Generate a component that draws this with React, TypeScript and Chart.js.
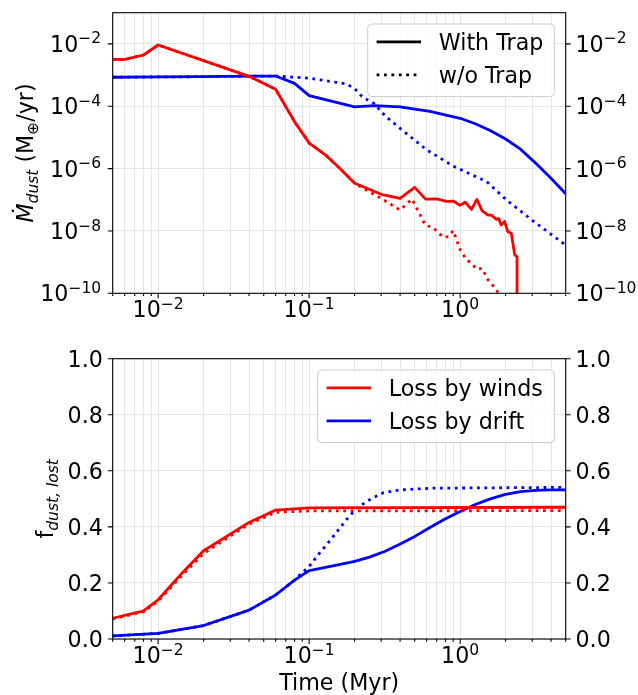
import React, { useEffect, useRef } from 'react';
import { Chart, registerables } from 'chart.js';
Chart.register(...registerables);

// ---------- data ----------
const X_MIN = 0.005;
const X_MAX = 5;

// Top panel: dust mass loss rate (M_earth / yr)
const topRedTrapX = [0.005, 0.006, 0.008, 0.01, 0.02, 0.04, 0.06, 0.08, 0.1, 0.13, 0.16, 0.2, 0.3, 0.4, 0.5, 0.59, 0.7, 0.81, 0.9, 1.0, 1.08, 1.19, 1.29, 1.4, 1.53, 1.61, 1.74, 1.8, 1.87, 1.97, 2.07, 2.18, 2.3, 2.38, 2.38];
const topRedTrapY = [3.2e-3, 3.2e-3, 4.4e-3, 9.2e-3, 2.9e-3, 9.1e-4, 3.5e-4, 3.2e-5, 6.6e-6, 2.6e-6, 1.0e-6, 3.4e-7, 1.5e-7, 1.1e-7, 2.5e-7, 1.05e-7, 1.07e-7, 8.9e-8, 9.1e-8, 6.6e-8, 8.3e-8, 4.9e-8, 1.03e-7, 4.4e-8, 3.2e-8, 3.2e-8, 2.35e-8, 2.5e-8, 1.55e-8, 2.0e-8, 9.5e-9, 8.4e-9, 1.7e-9, 1.5e-9, 1e-13];

const topRedNoTrapX = [0.005, 0.006, 0.008, 0.01, 0.02, 0.04, 0.06, 0.08, 0.1, 0.13, 0.16, 0.2, 0.3, 0.4, 0.48, 0.59, 0.66, 0.77, 0.84, 0.9, 1.0, 1.1, 1.19, 1.29, 1.4, 1.53, 1.74, 2.0];
const topRedNoTrapY = [3.2e-3, 3.2e-3, 4.4e-3, 9.2e-3, 2.9e-3, 9.1e-4, 3.5e-4, 3.2e-5, 6.6e-6, 2.6e-6, 1.0e-6, 3.4e-7, 1.1e-7, 4.7e-8, 1.05e-7, 1.5e-8, 1.3e-8, 6.3e-9, 6.6e-9, 1.03e-8, 2.5e-9, 1.2e-9, 9.1e-10, 5.9e-10, 6.3e-10, 2.7e-10, 1.3e-10, 3e-11];

const topBlueTrapX = [0.005, 0.01, 0.02, 0.04, 0.06, 0.08, 0.1, 0.2, 0.27, 0.4, 0.63, 1.0, 1.26, 1.58, 2.0, 2.51, 3.16, 3.98, 5.0];
const topBlueTrapY = [8.5e-4, 8.7e-4, 8.9e-4, 9.2e-4, 9.3e-4, 5.4e-4, 2.2e-4, 9.5e-5, 1.04e-4, 9.5e-5, 6.8e-5, 4.1e-5, 2.75e-5, 1.66e-5, 8.9e-6, 4.2e-6, 1.5e-6, 5.0e-7, 1.55e-7];

const topBlueNoTrapX = [0.005, 0.01, 0.02, 0.04, 0.06, 0.08, 0.1, 0.14, 0.176, 0.2, 0.225, 0.27, 0.32, 0.4, 0.6, 0.9, 1.5, 2.03, 3.0, 5.0];
const topBlueNoTrapY = [8.5e-4, 8.7e-4, 8.9e-4, 9.2e-4, 9.3e-4, 8.5e-4, 7.9e-4, 6.2e-4, 5.2e-4, 3.7e-4, 2.0e-4, 1.2e-4, 4.8e-5, 1.95e-5, 4.0e-6, 1.2e-6, 3.8e-7, 9.8e-8, 2.2e-8, 3.5e-9];

// Bottom panel: fraction of dust lost
const botRedTrapX = [0.005, 0.008, 0.01, 0.014, 0.02, 0.04, 0.06, 0.1, 5.0];
const botRedTrapY = [0.074, 0.10, 0.14, 0.228, 0.315, 0.416, 0.46, 0.468, 0.47];

const botRedNoTrapX = [0.005, 0.008, 0.01, 0.014, 0.02, 0.04, 0.06, 0.1, 5.0];
const botRedNoTrapY = [0.072, 0.097, 0.135, 0.22, 0.305, 0.41, 0.452, 0.457, 0.458];

const botBlueTrapX = [0.005, 0.01, 0.02, 0.04, 0.06, 0.08, 0.1, 0.141, 0.2, 0.251, 0.316, 0.398, 0.501, 0.631, 0.794, 1.0, 1.259, 1.585, 1.995, 2.512, 3.162, 3.981, 5.0];
const botBlueTrapY = [0.011, 0.02, 0.048, 0.103, 0.157, 0.21, 0.244, 0.26, 0.277, 0.292, 0.312, 0.338, 0.366, 0.398, 0.428, 0.455, 0.48, 0.5, 0.516, 0.526, 0.53, 0.532, 0.532];

const botBlueNoTrapX = [0.005, 0.01, 0.02, 0.04, 0.06, 0.08, 0.089, 0.097, 0.105, 0.112, 0.13, 0.15, 0.176, 0.205, 0.25, 0.31, 0.4, 0.66, 5.0];
const botBlueNoTrapY = [0.011, 0.02, 0.048, 0.103, 0.157, 0.21, 0.234, 0.252, 0.272, 0.294, 0.335, 0.377, 0.425, 0.466, 0.496, 0.522, 0.532, 0.538, 0.541];

// ticks
const X_MAJOR_TICKS = [0.01, 0.1, 1];
const X_MAJOR_EXPS = [-2, -1, 0];
const X_MINOR_TICKS = [0.005, 0.006, 0.007, 0.008, 0.009, 0.02, 0.03, 0.04, 0.05, 0.06, 0.07, 0.08, 0.09, 0.2, 0.3, 0.4, 0.5, 0.6, 0.7, 0.8, 0.9, 2, 3, 4, 5];
const TOP_Y_TICKS = [1e-10, 1e-8, 1e-6, 1e-4, 1e-2];
const TOP_Y_EXPS = [-10, -8, -6, -4, -2];
const BOT_Y_TICKS = [0, 0.2, 0.4, 0.6, 0.8, 1.0];
const BOT_Y_LABELS = ['0.0', '0.2', '0.4', '0.6', '0.8', '1.0'];

const TOP_LEGEND = ['With Trap', 'w/o Trap'];
const BOT_LEGEND = ['Loss by winds', 'Loss by drift'];
const X_TITLE = 'Time (Myr)';

// ---------- style ----------
const FAM = "'DejaVu Sans'";
const FS = 22.2;
const SFS = 15.5;
const RAISE = 8.5;
const DROP = 4.5;
const RED = '#ff0000';
const BLUE = '#0000ff';
const GRID = '#e6e6e6';
const LW = 2.8;
const DOT = [2.8, 4.6];

const W = 638;
const AREA_L = 112.7;
const AREA_R = 565.7;

type Run = { t: string; size: number; italic?: boolean; dy?: number };

function drawRuns(ctx: CanvasRenderingContext2D, runs: Run[], x: number, y: number, align: 'left' | 'right' | 'center') {
  let total = 0;
  const widths: number[] = [];
  for (const r of runs) {
    ctx.font = `${r.italic ? 'italic ' : ''}${r.size}px ${FAM}`;
    const w = ctx.measureText(r.t).width;
    widths.push(w);
    total += w;
  }
  let cx = align === 'left' ? x : align === 'right' ? x - total : x - total / 2;
  ctx.textAlign = 'left';
  ctx.textBaseline = 'alphabetic';
  runs.forEach((r, i) => {
    ctx.font = `${r.italic ? 'italic ' : ''}${r.size}px ${FAM}`;
    ctx.fillText(r.t, cx, y + (r.dy || 0));
    cx += widths[i];
  });
}

function sciRuns(exp: number): Run[] {
  const s = exp < 0 ? '\u2212' + Math.abs(exp) : String(exp);
  return [
    { t: '10', size: FS },
    { t: s, size: SFS, dy: -RAISE },
  ];
}

function legendBox(ctx: CanvasRenderingContext2D, x0: number, y0: number, x1: number, y1: number) {
  const r = 4;
  ctx.beginPath();
  ctx.moveTo(x0 + r, y0);
  ctx.lineTo(x1 - r, y0);
  ctx.arcTo(x1, y0, x1, y0 + r, r);
  ctx.lineTo(x1, y1 - r);
  ctx.arcTo(x1, y1, x1 - r, y1, r);
  ctx.lineTo(x0 + r, y1);
  ctx.arcTo(x0, y1, x0, y1 - r, r);
  ctx.lineTo(x0, y0 + r);
  ctx.arcTo(x0, y0, x0 + r, y0, r);
  ctx.closePath();
  ctx.fillStyle = 'rgba(255,255,255,0.8)';
  ctx.fill();
  ctx.strokeStyle = '#cccccc';
  ctx.lineWidth = 1;
  ctx.stroke();
}

function pts(xs: number[], ys: number[]) {
  return xs.map((x, i) => ({ x, y: ys[i] }));
}

function ds(label: string, xs: number[], ys: number[], color: string, dotted: boolean) {
  return {
    label,
    data: pts(xs, ys),
    borderColor: color,
    backgroundColor: color,
    borderWidth: LW,
    borderDash: dotted ? DOT : [],
    borderCapStyle: 'butt' as const,
    borderJoinStyle: 'round' as const,
    pointRadius: 0,
    pointHoverRadius: 0,
    tension: 0,
    fill: false,
  };
}

function xTickList() {
  return [...X_MINOR_TICKS, ...X_MAJOR_TICKS].sort((a, b) => a - b).map((v) => ({ value: v, major: X_MAJOR_TICKS.includes(v) }));
}

type PanelKind = 'top' | 'bottom';

function makeChart(canvas: HTMLCanvasElement, kind: PanelKind) {
  const isTop = kind === 'top';
  const H = isTop ? 330 : 365;
  const areaTop = isTop ? 12.7 : 28.7;
  const areaBottom = isTop ? 293.3 : 309;
  const yTicks = isTop ? TOP_Y_TICKS : BOT_Y_TICKS;

  const datasets = isTop
    ? [
        ds('red trap', topRedTrapX, topRedTrapY, RED, false),
        ds('red no trap', topRedNoTrapX, topRedNoTrapY, RED, true),
        ds('blue trap', topBlueTrapX, topBlueTrapY, BLUE, false),
        ds('blue no trap', topBlueNoTrapX, topBlueNoTrapY, BLUE, true),
      ]
    : [
        ds('red trap', botRedTrapX, botRedTrapY, RED, false),
        ds('red no trap', botRedNoTrapX, botRedNoTrapY, RED, true),
        ds('blue trap', botBlueTrapX, botBlueTrapY, BLUE, false),
        ds('blue no trap', botBlueNoTrapX, botBlueNoTrapY, BLUE, true),
      ];

  const decor = {
    id: 'decor',
    afterDraw(chart: any) {
      const ctx: CanvasRenderingContext2D = chart.ctx;
      const a = chart.chartArea;
      const xs = chart.scales.x;
      const ys = chart.scales.y;
      ctx.save();
      // frame
      ctx.strokeStyle = '#000';
      ctx.lineWidth = 1.1;
      ctx.strokeRect(a.left, a.top, a.right - a.left, a.bottom - a.top);
      // x ticks
      ctx.beginPath();
      for (const v of X_MAJOR_TICKS) {
        const px = xs.getPixelForValue(v);
        ctx.moveTo(px, a.bottom);
        ctx.lineTo(px, a.bottom + 4.9);
      }
      for (const v of X_MINOR_TICKS) {
        const px = xs.getPixelForValue(v);
        ctx.moveTo(px, a.bottom);
        ctx.lineTo(px, a.bottom + 2.8);
      }
      // y ticks both sides
      for (const v of yTicks) {
        const py = ys.getPixelForValue(v);
        ctx.moveTo(a.left, py);
        ctx.lineTo(a.left - 4.9, py);
        ctx.moveTo(a.right, py);
        ctx.lineTo(a.right + 4.9, py);
      }
      ctx.lineWidth = 1.1;
      ctx.stroke();

      ctx.fillStyle = '#000';
      // x tick labels
      X_MAJOR_TICKS.forEach((v, i) => {
        const px = xs.getPixelForValue(v);
        drawRuns(ctx, sciRuns(X_MAJOR_EXPS[i]), px, a.bottom + 24, 'center');
      });
      // y tick labels
      yTicks.forEach((v, i) => {
        const py = ys.getPixelForValue(v);
        if (isTop) {
          drawRuns(ctx, sciRuns(TOP_Y_EXPS[i]), a.left - 11.5, py + 8.1, 'right');
          drawRuns(ctx, sciRuns(TOP_Y_EXPS[i]), a.right + 9.8, py + 8.1, 'left');
        } else {
          drawRuns(ctx, [{ t: BOT_Y_LABELS[i], size: FS }], a.left - 9.8, py + 8.1, 'right');
          drawRuns(ctx, [{ t: BOT_Y_LABELS[i], size: FS }], a.right + 9.8, py + 8.1, 'left');
        }
      });

      // y axis title (rotated)
      const cy = (a.top + a.bottom) / 2;
      ctx.save();
      if (isTop) {
        ctx.translate(33.3, cy);
        ctx.rotate(-Math.PI / 2);
        drawRuns(
          ctx,
          [
            { t: '\u1E40', size: FS, italic: true },
            { t: 'dust', size: SFS, italic: true, dy: DROP },
            { t: ' (M', size: FS },
            { t: '\u2295', size: SFS, dy: DROP },
            { t: '/yr)', size: FS },
          ],
          0,
          0,
          'center'
        );
      } else {
        ctx.translate(53.3, cy);
        ctx.rotate(-Math.PI / 2);
        drawRuns(
          ctx,
          [
            { t: 'f', size: FS },
            { t: 'dust, lost', size: SFS, italic: true, dy: DROP },
          ],
          0,
          0,
          'center'
        );
      }
      ctx.restore();

      // x axis title (bottom only)
      if (!isTop) {
        drawRuns(ctx, [{ t: X_TITLE, size: FS }], (a.left + a.right) / 2, 360, 'center');
      }

      // legend
      const bx1 = a.right - 11.4;
      const by0 = a.top + 11.3;
      const bx0 = isTop ? 367.7 : 317.7;
      const by1 = by0 + 72.6;
      legendBox(ctx, bx0, by0, bx1, by1);
      const labels = isTop ? TOP_LEGEND : BOT_LEGEND;
      const colors = isTop ? ['#000', '#000'] : [RED, BLUE];
      const dashes = isTop ? [[], DOT] : [[], []];
      const hx0 = bx0 + 8.9;
      const hx1 = hx0 + 44.4;
      labels.forEach((lab, i) => {
        const ly = by0 + 17.9 + i * 33.0;
        ctx.beginPath();
        ctx.setLineDash(dashes[i] as number[]);
        ctx.strokeStyle = colors[i];
        ctx.lineWidth = LW;
        ctx.lineCap = 'butt';
        ctx.moveTo(hx0, ly);
        ctx.lineTo(hx1, ly);
        ctx.stroke();
        ctx.setLineDash([]);
        ctx.fillStyle = '#000';
        drawRuns(ctx, [{ t: lab, size: FS }], hx1 + 17.8, ly + 8.1, 'left');
      });
      ctx.restore();
    },
  };

  const yScale: any = isTop
    ? { type: 'logarithmic', min: 1e-10, max: 1e-1 }
    : { type: 'linear', min: 0, max: 1 };

  return new Chart(canvas, {
    type: 'line',
    data: { datasets: datasets as any },
    options: {
      responsive: false,
      animation: false,
      devicePixelRatio: 1,
      events: [],
      layout: { padding: { top: areaTop, left: 0, right: 0, bottom: 0 } },
      plugins: { legend: { display: false }, tooltip: { enabled: false }, title: { display: false } },
      scales: {
        x: {
          type: 'logarithmic',
          min: X_MIN,
          max: X_MAX,
          position: 'bottom',
          afterBuildTicks: (s: any) => {
            s.ticks = xTickList();
          },
          afterFit: (s: any) => {
            s.height = H - areaBottom;
          },
          ticks: { display: false, autoSkip: false },
          grid: { color: GRID, lineWidth: 1, drawTicks: false },
          border: { display: false },
        },
        y: {
          ...yScale,
          position: 'left',
          afterBuildTicks: (s: any) => {
            s.ticks = yTicks.map((v) => ({ value: v }));
          },
          afterFit: (s: any) => {
            s.width = AREA_L;
          },
          ticks: { display: false, autoSkip: false },
          grid: { color: GRID, lineWidth: 1, drawTicks: false },
          border: { display: false },
        },
        y2: {
          ...yScale,
          position: 'right',
          afterFit: (s: any) => {
            s.width = W - AREA_R;
          },
          ticks: { display: false },
          grid: { display: false, drawTicks: false },
          border: { display: false },
        },
      } as any,
    },
    plugins: [decor],
  });
}

function Panel({ kind, top, height }: { kind: PanelKind; top: number; height: number }) {
  const ref = useRef<HTMLCanvasElement | null>(null);
  useEffect(() => {
    if (!ref.current) return;
    const c = makeChart(ref.current, kind);
    return () => c.destroy();
  }, [kind]);
  return (
    <canvas
      ref={ref}
      width={W}
      height={height}
      style={{ position: 'absolute', left: 0, top, width: W, height, display: 'block' }}
    />
  );
}

export default function App() {
  return (
    <div style={{ position: 'absolute', left: 0, top: 0, width: W, height: 695, background: '#fff' }}>
      <Panel kind="top" top={0} height={330} />
      <Panel kind="bottom" top={330} height={365} />
    </div>
  );
}
